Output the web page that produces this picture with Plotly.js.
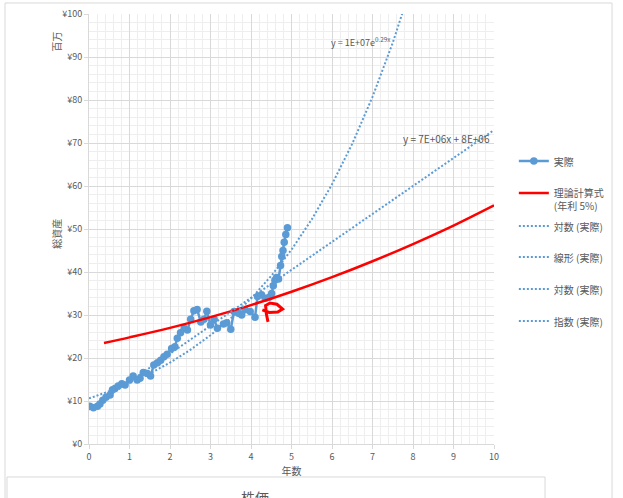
<!DOCTYPE html>
<html>
<head>
<meta charset="utf-8">
<script src="https://cdn.plot.ly/plotly-3.0.1.min.js"></script>
<style>html,body{margin:0;padding:0;background:#fff;}#chart{width:623px;height:498px;}</style>
</head>
<body>
<div id="chart"></div>
<script>
// ---- data (values in millions of yen) ----
const years = [0.02,0.11,0.21,0.27,0.34,0.42,0.52,0.58,0.64,0.72,0.81,0.89,1.0,1.09,1.19,1.26,1.34,1.44,1.52,1.6,1.69,1.77,1.85,1.93,2.04,2.12,2.18,2.26,2.35,2.43,2.51,2.59,2.67,2.76,2.84,2.91,3.0,3.09,3.17,3.32,3.4,3.5,3.58,3.69,3.77,3.85,3.98,4.1,4.16,4.26,4.35,4.45,4.51,4.55,4.59,4.63,4.68,4.73,4.76,4.79,4.82,4.86,4.9];
const actual = [8.8,8.45,8.8,9.3,10.2,10.9,11.4,12.6,12.9,13.5,14.0,13.7,14.9,15.8,14.9,15.3,16.6,16.4,15.8,18.4,18.9,19.5,20.3,20.9,22.2,22.6,24.6,25.9,26.9,26.5,29.0,31.0,31.3,28.4,29.0,30.9,27.7,29.0,26.9,27.9,28.2,26.7,30.8,30.4,30.0,31.2,30.8,29.5,34.3,34.7,33.9,34.1,35.0,36.8,38.1,38.7,38.4,41.5,43.6,45.0,46.9,48.7,50.3];
const theoryYears = [0.37,1,2,3,4,5,6,7,8,9,10];
const theoryValues = [23.5,24.8,27.0,29.5,32.3,35.4,38.8,42.5,46.5,50.8,55.5];
const expFit = [10.6, 0.29];      // y = a * e^(b x)
const linFit = [6.5, 8.0];        // y = m x + c
const trendYears = [0,0.5,1,1.5,2,2.5,3,3.5,4,4.5,5,5.5,6,6.5,7,7.5,8,8.5,9,9.5,10];
const yTickVals = [0,10,20,30,40,50,60,70,80,90,100];
const yTickText = yTickVals.map(v => '¥' + v);
const xTickVals = [0,1,2,3,4,5,6,7,8,9,10];
const names = ['実際','理論計算式<br>(年利 5%)','対数 (実際)','線形 (実際)','対数 (実際)','指数 (実際)'];
const expLabel = 'y = 1E+07e<sup>0.29x</sup>';
const linLabel = 'y = 7E+06x + 8E+06';

const blue = '#5B9BD5', red = '#FF0000', grey = '#595959';
const FONT = '"Noto Sans CJK JP", "Noto Sans", sans-serif';
const dotLine = {color: blue, width: 2, dash: '2px,2px'};

const expY = trendYears.map(x => expFit[0] * Math.exp(expFit[1] * x));
const linY = trendYears.map(x => linFit[0] * x + linFit[1]);

const traces = [
  {x: years, y: actual, name: names[0], mode: 'lines+markers', legend: 'legend',
   line: {color: blue, width: 2.5}, marker: {color: blue, size: 7.5}},
  {x: theoryYears, y: theoryValues, name: names[1], mode: 'lines', legend: 'legend2',
   line: {color: red, width: 2.5, shape: 'spline'}},
  {x: [null], y: [null], name: names[2], mode: 'lines', legend: 'legend3', line: dotLine},
  {x: trendYears, y: linY, name: names[3], mode: 'lines', legend: 'legend4', line: dotLine},
  {x: [null], y: [null], name: names[4], mode: 'lines', legend: 'legend5', line: dotLine},
  {x: trendYears, y: expY, name: names[5], mode: 'lines', legend: 'legend6', line: dotLine}
];

function leg(yTop) {
  return {x: 1.049, y: yTop, xanchor: 'left', yanchor: 'top', valign: 'top',
          font: {family: FONT, size: 10, color: grey}, bgcolor: 'rgba(0,0,0,0)', itemwidth: 30};
}

const layout = {
  width: 623, height: 498,
  margin: {l: 89, r: 129, t: 14, b: 54, pad: 0},
  paper_bgcolor: '#fff', plot_bgcolor: '#fff',
  font: {family: FONT, color: grey, size: 9},
  showlegend: true,
  legend: leg(0.6884), legend2: leg(0.614), legend3: leg(0.5372),
  legend4: leg(0.4651), legend5: leg(0.3907), legend6: leg(0.3163),
  xaxis: {range: [0, 10], tickvals: xTickVals, showgrid: true, gridcolor: '#D9D9D9', gridwidth: 1,
          minor: {dtick: 0.2, tick0: 0, showgrid: true, gridcolor: '#EEEEEE', gridwidth: 1},
          ticks: 'outside', ticklen: 4, tickcolor: '#D9D9D9', showline: true, linecolor: '#D9D9D9',
          zeroline: false, tickfont: {family: FONT, size: 9, color: grey},
          title: {text: '年数', font: {family: FONT, size: 10, color: grey}, standoff: 6}},
  yaxis: {range: [0, 100], tickvals: yTickVals, ticktext: yTickText, showgrid: true, gridcolor: '#D9D9D9', gridwidth: 1,
          minor: {dtick: 2, tick0: 0, showgrid: true, gridcolor: '#EEEEEE', gridwidth: 1},
          ticks: 'outside', ticklen: 4, tickcolor: '#D9D9D9', showline: true, linecolor: '#D9D9D9',
          zeroline: false, tickfont: {family: FONT, size: 9, color: grey}},
  annotations: [
    {text: '総資産', xref: 'paper', yref: 'paper', x: -0.104, y: 0.49, textangle: -90,
     showarrow: false, font: {family: FONT, size: 10, color: grey}},
    {text: '百万', xref: 'paper', yref: 'paper', x: -0.104, y: 0.965, textangle: -90,
     showarrow: false, font: {family: FONT, size: 10, color: grey}},
    {text: expLabel, xref: 'paper', yref: 'paper', x: 0.592, y: 0.956, xanchor: 'left',
     showarrow: false, font: {family: FONT, size: 9, color: grey}},
    {text: linLabel, xref: 'paper', yref: 'paper', x: 0.770, y: 0.733, xanchor: 'left',
     showarrow: false, font: {family: FONT, size: 10, color: grey}},
    {text: '株価', xref: 'paper', yref: 'paper', x: 0.41, y: -0.123, yanchor: 'middle',
     showarrow: false, font: {family: FONT, size: 14, color: grey}}
  ],
  shapes: [
    {type: 'rect', xref: 'paper', yref: 'paper', x0: -0.2074, x1: 1.2914, y0: -0.16, y1: 1.0256,
     line: {color: '#D9D9D9', width: 1}, layer: 'below'},
    {type: 'rect', xref: 'paper', yref: 'paper', x0: -0.2025, x1: 1.126, y0: -0.16, y1: -0.0767,
     line: {color: '#D9D9D9', width: 1}, fillcolor: '#fff', layer: 'above'},
    {type: 'path', xref: 'x', yref: 'y',
     path: 'M4.42,28.4 L4.38,30.2 L4.36,32.2 L4.47,32.8 L4.64,32.5 L4.78,31.4 L4.66,30.7 L4.45,30.6 L4.28,31.2',
     line: {color: red, width: 3}, layer: 'above'}
  ]
};

Plotly.newPlot('chart', traces, layout, {displayModeBar: false, staticPlot: true});
</script>
</body>
</html>
